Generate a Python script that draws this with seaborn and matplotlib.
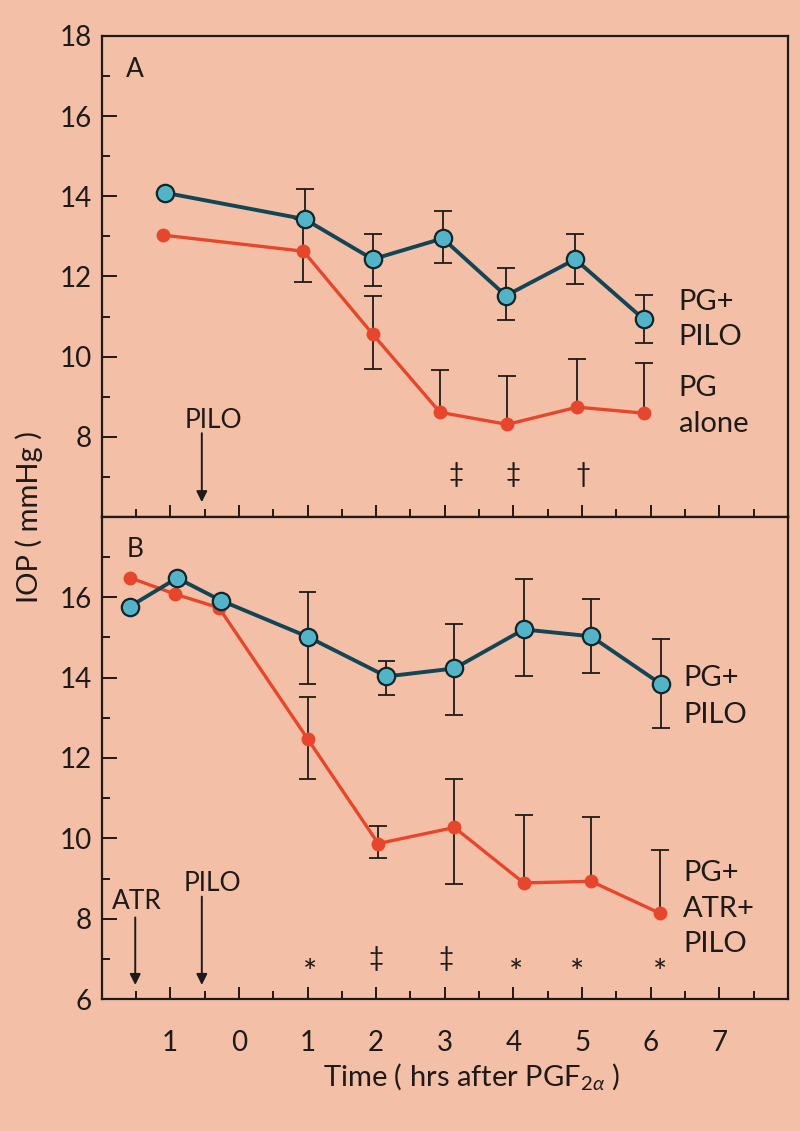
import numpy as np
import pandas as pd
import matplotlib
matplotlib.use("Agg")
import matplotlib.pyplot as plt
import seaborn as sns

nan = np.nan

# ---------------- data ----------------
# Panel A
a_blue_x = [-1.08, 0.96, 1.95, 2.97, 3.89, 4.90, 5.90]
a_blue_y = [14.09, 13.43, 12.43, 12.95, 11.52, 12.43, 10.93]
a_blue_hi = [nan, 14.18, 13.06, 13.64, 12.20, 13.05, 11.54]
a_blue_lo = [nan, nan, 11.76, 12.33, 10.91, 11.80, 10.33]

a_red_x = [-1.10, 0.94, 1.95, 2.93, 3.91, 4.93, 5.90]
a_red_y = [13.03, 12.63, 10.56, 8.61, 8.31, 8.74, 8.59]
a_red_hi = [nan, 13.43, 11.51, 9.66, 9.52, 9.93, 9.83]
a_red_lo = [nan, 11.86, 9.68, nan, nan, nan, nan]

# Panel B
b_blue_x = [-1.59, -0.90, -0.26, 1.00, 2.15, 3.14, 4.15, 5.13, 6.15]
b_blue_y = [15.77, 16.48, 15.92, 15.02, 14.03, 14.23, 15.20, 15.03, 13.84]
b_blue_hi = [nan, nan, nan, 16.12, 14.41, 15.33, 16.45, 15.97, 14.97]
b_blue_lo = [nan, nan, nan, 13.85, 13.58, 13.08, 14.03, 14.12, 12.74]

b_red_x = [-1.59, -0.93, -0.29, 1.00, 2.03, 3.14, 4.15, 5.13, 6.14]
b_red_y = [16.49, 16.08, 15.74, 12.48, 9.87, 10.27, 8.89, 8.93, 8.13]
b_red_hi = [nan, nan, nan, 13.53, 10.31, 11.47, 10.58, 10.53, 9.70]
b_red_lo = [nan, nan, nan, 11.48, 9.51, 8.87, nan, nan, nan]

# significance symbols
a_sig_sym = ["\u2021", "\u2021", "\u2020"]
a_sig_x = [3.16, 4.00, 5.02]
b_sig_sym = ["*", "\u2021", "\u2021", "*", "*", "*"]
b_sig_x = [1.03, 2.00, 3.02, 4.04, 4.93, 6.14]

x_major = [-1, 0, 1, 2, 3, 4, 5, 6, 7]
x_labels = ["1", "0", "1", "2", "3", "4", "5", "6", "7"]
x_minor = [-1.5, -0.5, 0.5, 1.5, 2.5, 3.5, 4.5, 5.5, 6.5, 7.5]

# ---------------- style ----------------
BG = "#F3BFA7"
BLUE_FILL = "#52B4C6"
BLUE_LINE = "#124657"
RED = "#E6472C"
INK = "#1E1A18"

sns.set_theme(style="ticks")
plt.rcParams["font.family"] = ["Lato", "DejaVu Sans"]
plt.rcParams["mathtext.fontset"] = "custom"
plt.rcParams["mathtext.rm"] = "Lato"
plt.rcParams["mathtext.it"] = "Lato:italic"
plt.rcParams["axes.edgecolor"] = INK
plt.rcParams["text.color"] = INK
plt.rcParams["xtick.color"] = INK
plt.rcParams["ytick.color"] = INK

fig = plt.figure(figsize=(8, 11.31), dpi=100, facecolor=BG)
axA = fig.add_axes([0.127, 0.5429, 0.858, 0.4253])
axB = fig.add_axes([0.127, 0.1167, 0.858, 0.4262])

CAP = 0.13


def draw_err(ax, xs, ys, his, los):
    for x, y, hi, lo in zip(xs, ys, his, los):
        if not np.isnan(hi):
            ax.vlines(x, y, hi, color=INK, lw=1.3, zorder=2)
            ax.hlines(hi, x - CAP, x + CAP, color=INK, lw=1.3, zorder=2)
        if not np.isnan(lo):
            ax.vlines(x, lo, y, color=INK, lw=1.3, zorder=2)
            ax.hlines(lo, x - CAP, x + CAP, color=INK, lw=1.3, zorder=2)


def draw_series(ax, bx, by, rx, ry):
    dr = pd.DataFrame({"t": rx, "v": ry})
    db = pd.DataFrame({"t": bx, "v": by})
    sns.lineplot(data=dr, x="t", y="v", ax=ax, sort=False, color=RED, lw=2.4,
                 marker="o", markersize=10, markerfacecolor=RED,
                 markeredgecolor=RED, markeredgewidth=0, zorder=3)
    sns.lineplot(data=db, x="t", y="v", ax=ax, sort=False, color=BLUE_LINE, lw=2.8,
                 marker="o", markersize=12.5, markerfacecolor=BLUE_FILL,
                 markeredgecolor="#10262C", markeredgewidth=1.6, zorder=4)


for ax in (axA, axB):
    ax.set_facecolor(BG)
    ax.set_xlim(-2, 8)
    ax.set_ylim(6, 18)
    for s in ax.spines.values():
        s.set_visible(True)
        s.set_linewidth(1.6)
        s.set_color(INK)
    ax.set_xticks(x_major)
    ax.set_xticks(x_minor, minor=True)
    ax.set_yticks([7, 9, 11, 13, 15, 17], minor=True)
    ax.tick_params(axis="y", which="major", direction="in", length=11, width=1.4,
                   labelsize=20, pad=7, right=False)
    ax.tick_params(axis="y", which="minor", direction="in", length=5.5, width=1.4,
                   right=False)
    ax.tick_params(axis="x", which="major", direction="in", length=8.5, width=1.4,
                   labelsize=20, pad=22, top=False)
    ax.tick_params(axis="x", which="minor", direction="in", length=6, width=1.4,
                   top=False)

axA.set_yticks([8, 10, 12, 14, 16, 18])
axA.set_yticklabels(["8", "10", "12", "14", "16", "18"])
axA.set_xticklabels([])
axB.set_yticks([6, 8, 10, 12, 14, 16])
axB.set_yticklabels(["6", "8", "10", "12", "14", "16"])
axB.set_xticklabels(x_labels)

# Panel A
draw_err(axA, a_blue_x, a_blue_y, a_blue_hi, a_blue_lo)
draw_err(axA, a_red_x, a_red_y, a_red_hi, a_red_lo)
draw_series(axA, a_blue_x, a_blue_y, a_red_x, a_red_y)

# Panel B
draw_err(axB, b_blue_x, b_blue_y, b_blue_hi, b_blue_lo)
draw_err(axB, b_red_x, b_red_y, b_red_hi, b_red_lo)
draw_series(axB, b_blue_x, b_blue_y, b_red_x, b_red_y)

for ax in (axA, axB):
    ax.set_xlabel("")
    ax.set_ylabel("")
    ax.set_xlim(-2, 8)
    ax.set_ylim(6, 18)

# panel letters
axA.text(-1.65, 16.97, "A", fontsize=19, ha="left", va="baseline")
axB.text(-1.64, 17.01, "B", fontsize=19, ha="left", va="baseline")

# series labels
FS = 21
axA.text(6.41, 11.16, "PG+", fontsize=FS, ha="left", va="baseline")
axA.text(6.41, 10.29, "PILO", fontsize=FS, ha="left", va="baseline")
axA.text(6.41, 9.02, "PG", fontsize=FS, ha="left", va="baseline")
axA.text(6.41, 8.13, "alone", fontsize=FS, ha="left", va="baseline")
axB.text(6.47, 13.78, "PG+", fontsize=FS, ha="left", va="baseline")
axB.text(6.47, 12.88, "PILO", fontsize=FS, ha="left", va="baseline")
axB.text(6.47, 8.95, "PG+", fontsize=FS, ha="left", va="baseline")
axB.text(6.47, 8.03, "ATR+", fontsize=FS, ha="left", va="baseline")
axB.text(6.47, 7.18, "PILO", fontsize=FS, ha="left", va="baseline")

# significance marks
for s, x in zip(a_sig_sym, a_sig_x):
    axA.text(x, 7.05, s, fontsize=19, ha="center", va="center")
for s, x in zip(b_sig_sym, b_sig_x):
    if s == "*":
        axB.text(x, 6.62, s, fontsize=24, ha="center", va="center")
    else:
        axB.text(x, 7.0, s, fontsize=19, ha="center", va="center")

# arrows
arrow_kw = dict(arrowstyle="-|>", color=INK, lw=1.4, mutation_scale=16,
                shrinkA=0, shrinkB=0)
axA.annotate("", xy=(-0.54, 6.37), xytext=(-0.54, 8.09), arrowprops=arrow_kw)
axA.text(-0.37, 8.21, "PILO", fontsize=19, ha="center", va="baseline")
axB.annotate("", xy=(-1.51, 6.35), xytext=(-1.51, 8.03), arrowprops=arrow_kw)
axB.text(-1.49, 8.23, "ATR", fontsize=19, ha="center", va="baseline")
axB.annotate("", xy=(-0.54, 6.35), xytext=(-0.54, 8.55), arrowprops=arrow_kw)
axB.text(-0.39, 8.70, "PILO", fontsize=19, ha="center", va="baseline")

# axis titles
fig.text(0.036, 1 - 517 / 1131, "IOP ( mmHg )", rotation=90, fontsize=21,
         ha="center", va="center")
fig.text(0.589, 1 - 1077 / 1131, r"Time ( hrs after PGF$_{2\alpha}$ )", fontsize=21,
         ha="center", va="center")

fig.savefig("out.png", dpi=100, facecolor=BG)
